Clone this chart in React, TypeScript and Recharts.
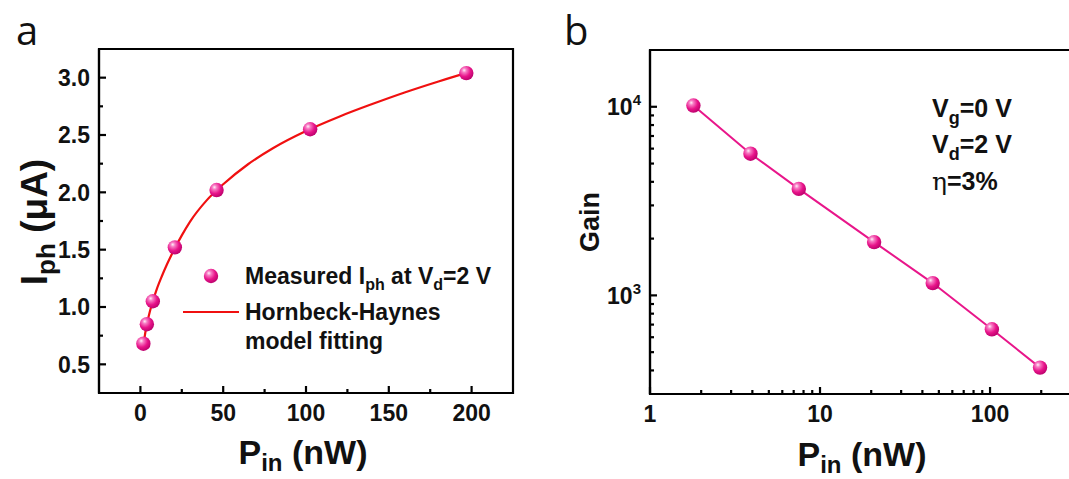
import React from 'react';
import { ComposedChart, Line, Scatter, XAxis, YAxis, ReferenceArea } from 'recharts';

// ---------- data ----------
const pIn = [1.8, 3.9, 7.5, 20.8, 46, 102.5, 196.8];
const iph = [0.68, 0.85, 1.05, 1.52, 2.02, 2.55, 3.04];
const gain = [10150, 5640, 3670, 1917, 1162, 661, 414];

const fitP = [1.5, 3, 5, 7.5, 10, 13, 16, 20, 25, 30, 40, 50, 65, 80, 100, 120, 140, 160, 180, 200];
const fitI = [0.63, 0.78, 0.92, 1.05, 1.16, 1.27, 1.37, 1.49, 1.625, 1.745, 1.93, 2.07, 2.245, 2.385, 2.535, 2.66, 2.77, 2.873, 2.967, 3.055];

const xMajorA = [0, 50, 100, 150, 200];
const xMinorA = [25, 75, 125, 175];
const yMajorA = [0.5, 1.0, 1.5, 2.0, 2.5, 3.0];
const yMinorA = [0.75, 1.25, 1.75, 2.25, 2.75];

const xMajorB = [1, 10, 100];
const xMinorB = [2, 3, 4, 5, 6, 7, 8, 9, 20, 30, 40, 50, 60, 70, 80, 90, 200, 300];
const yMajorB = [1000, 10000];
const yMinorB = [400, 500, 600, 700, 800, 900, 2000, 3000, 4000, 5000, 6000, 7000, 8000, 9000];

const domainAx = [-25, 225];
const domainAy = [0.25, 3.25];
const domainBx = [1, 316];
const domainBy = [300, 20000];

const measured = pIn.map((p, i) => ({ p, v: iph[i] }));
const fit = fitP.map((p, i) => ({ p, v: fitI[i] }));
const gainData = pIn.map((p, i) => ({ p, g: gain[i] }));

const FONT = "'Liberation Sans', Arial, Helvetica, sans-serif";
const BLACK = '#000';
const TXT = '#111';
const MAJ = 7;
const MIN = 4;
const TW = 2.2;

// ---------- tick renderers ----------
const fmtA = (v: number) => v.toFixed(1);

function bottomTick(majors: number[], label: (v: number) => React.ReactNode) {
  return (props: any) => {
    const { x, y, payload } = props;
    const v = payload.value;
    const major = majors.includes(v);
    return (
      <g>
        <path d={`M${x},${y}V${y - (major ? MAJ : MIN)}`} stroke={BLACK} strokeWidth={TW} fill="none" />
        {major && (
          <text x={x} y={y + 28} textAnchor="middle" fontSize={23} fontWeight="bold" fontFamily={FONT} fill={TXT}>
            {label(v)}
          </text>
        )}
      </g>
    );
  };
}
function topTick(majors: number[]) {
  return (props: any) => {
    const { x, y, payload } = props;
    const major = majors.includes(payload.value);
    return <path d={`M${x},${y}V${y + (major ? MAJ : MIN)}`} stroke={BLACK} strokeWidth={TW} fill="none" />;
  };
}
function leftTick(majors: number[], label: (v: number) => React.ReactNode) {
  return (props: any) => {
    const { x, y, payload } = props;
    const v = payload.value;
    const major = majors.includes(v);
    return (
      <g>
        <path d={`M${x},${y}H${x + (major ? MAJ : MIN)}`} stroke={BLACK} strokeWidth={TW} fill="none" />
        {major && (
          <text x={x - 9} y={y} dy="0.36em" textAnchor="end" fontSize={23} fontWeight="bold" fontFamily={FONT} fill={TXT}>
            {label(v)}
          </text>
        )}
      </g>
    );
  };
}
function rightTick(majors: number[]) {
  return (props: any) => {
    const { x, y, payload } = props;
    const major = majors.includes(payload.value);
    return <path d={`M${x},${y}H${x - (major ? MAJ : MIN)}`} stroke={BLACK} strokeWidth={TW} fill="none" />;
  };
}

const powLabel = (v: number) => (
  <>
    10
    <tspan dy="-10" fontSize={15}>
      {Math.round(Math.log10(v))}
    </tspan>
  </>
);

// ---------- marker ----------
const Ball = (props: any) => {
  const { cx, cy, index } = props;
  if (cx == null || cy == null) return null;
  const id = `ball-${props.gid || 'g'}-${index}`;
  return (
    <g>
      <defs>
        <radialGradient id={id} cx="38%" cy="34%" r="70%" fx="35%" fy="30%">
          <stop offset="0%" stopColor="#fff0f8" />
          <stop offset="22%" stopColor="#f77cc4" />
          <stop offset="60%" stopColor="#e8148a" />
          <stop offset="100%" stopColor="#b8006a" />
        </radialGradient>
      </defs>
      <circle cx={cx} cy={cy} r={7.2} fill={`url(#${id})`} />
    </g>
  );
};

const axisLine = { stroke: BLACK, strokeWidth: 2.2 };
const txt = { fontFamily: FONT, fontWeight: 'bold' as const, fill: TXT };

const commonAxis = {
  type: 'number' as const,
  interval: 0 as const,
  tickSize: 0,
  tickMargin: 0,
  stroke: BLACK,
  axisLine,
  tickLine: false,
  allowDataOverflow: true,
};

export default function App() {
  return (
    <div style={{ position: 'absolute', left: 0, top: 0, width: 1069, height: 479, overflow: 'hidden', background: '#fff' }}>
      {/* Panel a */}
      <div style={{ position: 'absolute', left: 0, top: 0 }}>
        <ComposedChart width={540} height={479} margin={{ top: 49, right: 27, bottom: 0, left: 0 }}>
          <XAxis {...commonAxis} dataKey="p" domain={domainAx} ticks={[...xMajorA, ...xMinorA]} height={86}
            tick={bottomTick(xMajorA, (v) => String(v))} />
          <XAxis {...commonAxis} xAxisId="top" orientation="top" dataKey="p" domain={domainAx}
            ticks={[...xMajorA, ...xMinorA]} height={0} tick={topTick(xMajorA)} />
          <YAxis {...commonAxis} dataKey="v" domain={domainAy} ticks={[...yMajorA, ...yMinorA]} width={99}
            tick={leftTick(yMajorA, fmtA)} />
          <YAxis {...commonAxis} yAxisId="right" orientation="right" dataKey="v" domain={domainAy}
            ticks={[...yMajorA, ...yMinorA]} width={0} tick={rightTick(yMajorA)} />
          <ReferenceArea x1={domainAx[0]} x2={domainAx[1]} y1={domainAy[0]} y2={domainAy[1]}
            fill="none" fillOpacity={0} stroke={BLACK} strokeWidth={2.2} strokeOpacity={1} ifOverflow="visible" />
          <Line data={fit} dataKey="v" type="monotone" stroke="#f01010" strokeWidth={2.2} dot={false}
            isAnimationActive={false} />
          <Scatter data={measured} dataKey="v" shape={(p: any) => <Ball {...p} gid="a" />} isAnimationActive={false} />
        </ComposedChart>
      </div>

      {/* Panel b */}
      <div style={{ position: 'absolute', left: 540, top: 0 }}>
        <ComposedChart width={560} height={479} margin={{ top: 50, right: 25, bottom: 0, left: 0 }}>
          <XAxis {...commonAxis} dataKey="p" scale="log" domain={domainBx} ticks={[...xMajorB, ...xMinorB]}
            height={85} tick={bottomTick(xMajorB, (v) => String(v))} />
          <XAxis {...commonAxis} xAxisId="top" orientation="top" dataKey="p" scale="log" domain={domainBx}
            ticks={[...xMajorB, ...xMinorB]} height={0} tick={topTick(xMajorB)} />
          <YAxis {...commonAxis} dataKey="g" scale="log" domain={domainBy} ticks={[...yMajorB, ...yMinorB]}
            width={110} tick={leftTick(yMajorB, powLabel)} />
          <YAxis {...commonAxis} yAxisId="right" orientation="right" dataKey="g" scale="log" domain={domainBy}
            ticks={[...yMajorB, ...yMinorB]} width={0} tick={rightTick(yMajorB)} />
          <ReferenceArea x1={domainBx[0]} x2={domainBx[1]} y1={domainBy[0]} y2={domainBy[1]}
            fill="none" fillOpacity={0} stroke={BLACK} strokeWidth={2.2} strokeOpacity={1} ifOverflow="visible" />
          <Line data={gainData} dataKey="g" type="linear" stroke="#e8168a" strokeWidth={2} dot={false}
            isAnimationActive={false} />
          <Scatter data={gainData} dataKey="g" shape={(p: any) => <Ball {...p} gid="b" />} isAnimationActive={false} />
        </ComposedChart>
      </div>

      {/* Text overlay */}
      <svg width={1069} height={479} style={{ position: 'absolute', left: 0, top: 0, pointerEvents: 'none' }}>
        <text x={16} y={45} fontSize={40} fontFamily="'Open Sans', 'Liberation Sans', sans-serif" fill={TXT}>a</text>
        <text x={564} y={45} fontSize={40} fontFamily="'Open Sans', 'Liberation Sans', sans-serif" fill={TXT}>b</text>

        {/* panel a titles */}
        <text x={303} y={464} textAnchor="middle" fontSize={34} {...txt}>
          P<tspan dy="7" fontSize={24}>in</tspan>
          <tspan dy="-7"> (nW)</tspan>
        </text>
        <text transform="translate(47,222) rotate(-90)" textAnchor="middle" fontSize={37} {...txt}>
          I<tspan dy="8" fontSize={26}>ph</tspan>
          <tspan dy="-8"> (μA)</tspan>
        </text>

        {/* legend a */}
        <Ball cx={211} cy={276} index={99} gid="legend" />
        <line x1={183} x2={239} y1={312} y2={312} stroke="#f01010" strokeWidth={2.2} />
        <text x={245} y={284} fontSize={23} {...txt}>
          Measured I<tspan dy="6" fontSize={16}>ph</tspan>
          <tspan dy="-6"> at V</tspan>
          <tspan dy="6" fontSize={16}>d</tspan>
          <tspan dy="-6">=2 V</tspan>
        </text>
        <text x={245} y={320} fontSize={23} {...txt}>Hornbeck-Haynes</text>
        <text x={245} y={349} fontSize={23} {...txt}>model fitting</text>

        {/* panel b titles */}
        <text x={862} y={466} textAnchor="middle" fontSize={34} {...txt}>
          P<tspan dy="7" fontSize={24}>in</tspan>
          <tspan dy="-7"> (nW)</tspan>
        </text>
        <text transform="translate(599,222) rotate(-90)" textAnchor="middle" fontSize={27} {...txt}>Gain</text>

        {/* annotations b */}
        <text x={932} y={117} fontSize={25} {...txt}>
          V<tspan dy="7" fontSize={18}>g</tspan>
          <tspan dy="-7">=0 V</tspan>
        </text>
        <text x={932} y={153} fontSize={25} {...txt}>
          V<tspan dy="7" fontSize={18}>d</tspan>
          <tspan dy="-7">=2 V</tspan>
        </text>
        <text x={932} y={190} fontSize={25} {...txt}>
          <tspan fontWeight="normal" fontFamily="'DejaVu Serif', serif">η</tspan>=3%
        </text>
      </svg>
    </div>
  );
}
